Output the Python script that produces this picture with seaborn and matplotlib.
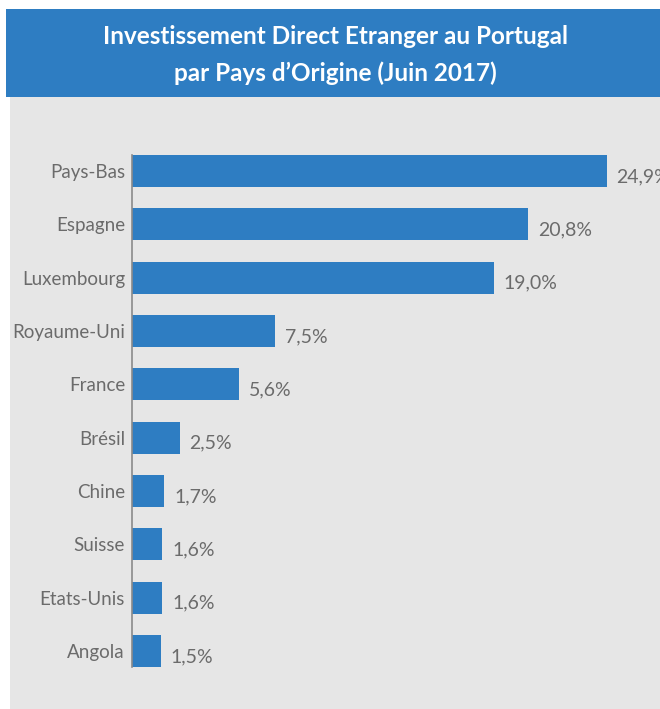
import matplotlib
matplotlib.use("Agg")
import matplotlib.pyplot as plt
import seaborn as sns
import pandas as pd
from matplotlib.patches import Rectangle

# --- data ---
countries = ["Pays-Bas", "Espagne", "Luxembourg", "Royaume-Uni", "France",
             "Brésil", "Chine", "Suisse", "Etats-Unis", "Angola"]
shares = [24.9, 20.8, 19.0, 7.5, 5.6, 2.5, 1.7, 1.6, 1.6, 1.5]
title_lines = ["Investissement Direct Etranger au Portugal",
               "par Pays d\u2019Origine (Juin 2017)"]

df = pd.DataFrame({"pays": countries, "part": shares})

blue = "#2e7dc2"
panel = "#e6e6e6"
txt = "#6b6b6b"

sns.set_style("white")
plt.rcParams["font.family"] = ["Lato", "DejaVu Sans"]

fig = plt.figure(figsize=(6.6, 7.09), dpi=100)
fig.patch.set_facecolor("white")

# grey panel and blue title banner (behind the axes)
fig.patches.append(Rectangle((10 / 660, 0), 1, 612 / 709, transform=fig.transFigure,
                             facecolor=panel, edgecolor="none", zorder=-5))
fig.patches.append(Rectangle((6 / 660, 612 / 709), 1, 88 / 709, transform=fig.transFigure,
                             facecolor=blue, edgecolor="none", zorder=-5))
fig.text(0.508, 1 - 37 / 709, title_lines[0], color="white", fontsize=17.5,
         fontweight="bold", ha="center", va="center")
fig.text(0.508, 1 - 73 / 709, title_lines[1], color="white", fontsize=17.5,
         fontweight="bold", ha="center", va="center")

ax = fig.add_axes([132 / 660, 42 / 709, 528 / 660, 512 / 709])
ax.set_zorder(2)
ax.set_facecolor("none")
sns.barplot(data=df, x="part", y="pays", orient="h", color=blue,
            width=0.6, saturation=1, linewidth=0, ax=ax)

ax.set_xlim(0, 27.7)
ax.set_ylim(len(countries) - 0.7, -0.3)
ax.set_xlabel("")
ax.set_ylabel("")
ax.set_xticks([])
for s in ["top", "right", "bottom"]:
    ax.spines[s].set_visible(False)
ax.spines["left"].set_color("#8a8a8a")
ax.spines["left"].set_linewidth(1.2)
ax.tick_params(axis="y", length=0, pad=5, labelsize=13.5, labelcolor=txt)

for i, v in enumerate(shares):
    ax.annotate(f"{v:.1f}%".replace(".", ","), (v, i), xytext=(7, -4),
                textcoords="offset points", ha="left", va="center",
                fontsize=14, color=txt, annotation_clip=False)

fig.savefig("out.png", dpi=100)
